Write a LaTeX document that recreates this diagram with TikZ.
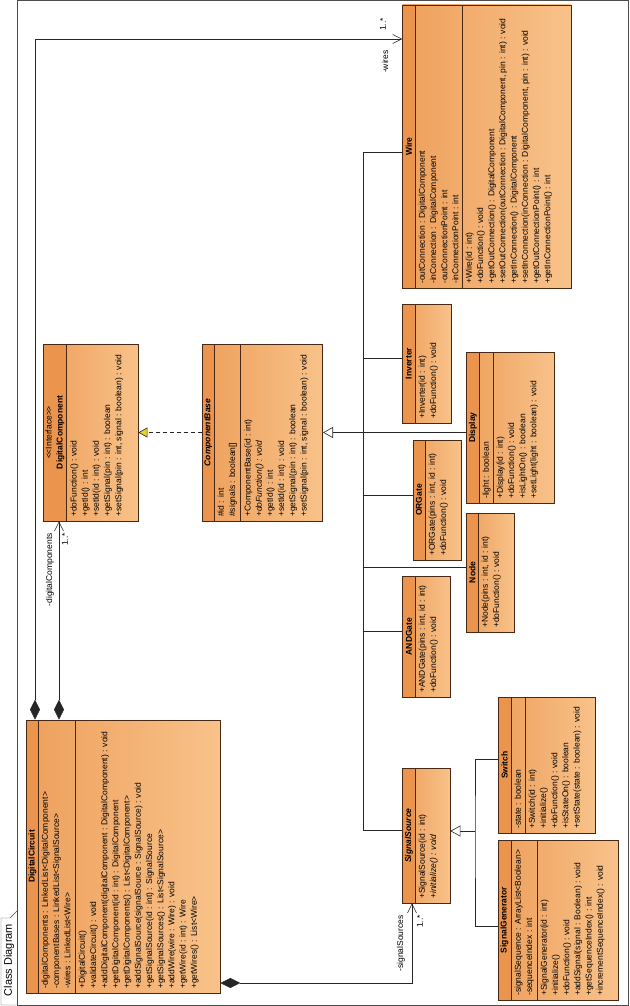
\documentclass[tikz,border=0pt]{standalone}
\usepackage{fontspec}
\setmainfont{Liberation Sans}
\usetikzlibrary{arrows.meta, fit}

\definecolor{hdrfill}{RGB}{234,148,78}
\definecolor{bodyfill}{RGB}{238,160,92}
\definecolor{bodyend}{RGB}{248,194,138}
\definecolor{boxline}{RGB}{70,40,20}
\definecolor{realfill}{RGB}{240,205,40}

\begin{document}
\begin{tikzpicture}[x=1pt, y=-1pt,
  cls/.style={draw=boxline, line width=0.7pt, inner sep=0pt, left color=bodyfill, right color=bodyend},
  hdr/.style={draw=boxline, line width=0.7pt, fill=hdrfill},
  sep/.style={draw=boxline, line width=0.7pt},
  txt/.style={rotate=90, anchor=north west, align=left, inner xsep=4pt, inner ysep=3.5pt, font=\fontsize{8.5}{11.2}\selectfont},
  ttl/.style={rotate=90, align=center, inner sep=0pt, font=\fontsize{8.5}{11}\selectfont\bfseries},
  lbl/.style={rotate=90, inner sep=0pt, font=\fontsize{8.5}{10}\selectfont},
  conn/.style={line width=0.6pt, draw=black!85},
  comp/.style={conn, {Diamond[length=20pt,width=10pt]}-{Straight Barb[length=9pt,width=9pt]}},
  gen/.style={conn, -{Triangle[length=10pt,width=11pt,fill=white]}},
  real/.style={conn, dash pattern=on 4pt off 3pt, -{Triangle[length=9pt,width=10pt,fill=realfill]}}]

  \useasboundingbox (0,0) rectangle (629,1006);

  % frame
  \draw[black!70] (17,0.5) rectangle (628.5,1005);
  \draw[black!70] (17,1005) -- (1,1005) -- (1,918) -- (10,918) -- (17,911);
  \node[lbl, font=\fontsize{11}{13}\selectfont] (frame-t) at (9,960) {Class Diagram};

  % DigitalCircuit
  \node[cls, fit={(26.7,720) (220,993)}] (dcircuit) {};
  \filldraw[hdr] (26.7,720) rectangle (38,993);
  \draw[sep] (75,720) -- (75,993);
  \node[ttl] (dcircuit-t) at (32.35,856.5) {DigitalCircuit};
  \node[txt] (dcircuit-a) at (38,993) {-digitalComponents : LinkedList<DigitalComponent>\\
    -componentBases : LinkedList<SignalSource>\\
    -wires : LinkedList<Wire>};
  \node[txt] (dcircuit-m) at (75,993) {+DigitalCircuit()\\
    +validateCircuit() : void\\
    +addDigitalComponent(digitalComponent : DigitalComponent) : void\\
    +getDigitalComponent(id : int) : DigitalComponent\\
    +getDigitalComponents() : List<DigitalComponent>\\
    +addSignalSource(signalSource : SignalSource) : void\\
    +getSignalSource(id : int) : SignalSource\\
    +getSignalSources() : List<SignalSource>\\
    +addWire(wire : Wire) : void\\
    +getWire(id : int) : Wire\\
    +getWires() : List<Wire>};

  % DigitalComponent
  \node[cls, fit={(43,344) (138,521)}] (dcomp) {};
  \filldraw[hdr] (43,344) rectangle (66.7,521);
  \node[ttl, font=\fontsize{8.5}{11}\selectfont] (dcomp-t) at (54.85,432.5) {<{}<Interface>{}>\\\textbf{DigitalComponent}};
  \node[txt] (dcomp-m) at (66.7,521) {+doFunction() : void\\
    +getId() : int\\
    +setId(id : int) : void\\
    +getSignal(pin : int) : boolean\\
    +setSignal(pin : int, signal : boolean) : void};

  % ComponentBase
  \node[cls, fit={(202.7,344) (322.7,521)}] (cbase) {};
  \filldraw[hdr] (202.7,344) rectangle (214,521);
  \draw[sep] (240.7,344) -- (240.7,521);
  \node[ttl] (cbase-t) at (208.35,432.5) {\textit{ComponentBase}};
  \node[txt] (cbase-a) at (214,521) {\#id : int\\
    \#signals : boolean[]};
  \node[txt] (cbase-m) at (240.7,521) {+ComponentBase(id : int)\\
    \textit{+doFunction() : void}\\
    +getId() : int\\
    +setId(id : int) : void\\
    +getSignal(pin : int) : boolean\\
    +setSignal(pin : int, signal : boolean) : void};

  % Wire
  \node[cls, fit={(402.7,5) (571,288)}] (wire) {};
  \filldraw[hdr] (402.7,5) rectangle (415,288);
  \draw[sep] (462,5) -- (462,288);
  \node[ttl] (wire-t) at (408.85,146.5) {Wire};
  \node[txt] (wire-a) at (415,288) {-outConnection : DigitalComponent\\
    -inConnection : DigitalComponent\\
    -outConnectionPoint : int\\
    -inConnectionPoint : int};
  \node[txt] (wire-m) at (462,288) {+Wire(id : int)\\
    +doFunction() : void\\
    +getOutConnection() : DigitalComponent\\
    +setOutConnection(outConnection : DigitalComponent, pin : int) : void\\
    +getInConnection() : DigitalComponent\\
    +setInConnection(inConnection : DigitalComponent, pin : int) : void\\
    +getOutConnectionPoint() : int\\
    +getInConnectionPoint() : int};

  % Inverter
  \node[cls, fit={(402.7,304) (451,423)}] (inverter) {};
  \filldraw[hdr] (402.7,304) rectangle (415,423);
  \node[ttl] (inverter-t) at (408.85,363.5) {Inverter};
  \node[txt] (inverter-m) at (415,423) {+Inverter(id : int)\\
    +doFunction() : void};

  % Display
  \node[cls, fit={(466.7,352) (554,503)}] (display) {};
  \filldraw[hdr] (466.7,352) rectangle (479,503);
  \draw[sep] (493,352) -- (493,503);
  \node[ttl] (display-t) at (472.85,427.5) {Display};
  \node[txt] (display-a) at (479,503) {-light : boolean};
  \node[txt] (display-m) at (493,503) {+Display(id : int)\\
    +doFunction() : void\\
    +isLightOn() : boolean\\
    +setLight(light : boolean) : void};

  % ORGate
  \node[cls, fit={(413,440) (461,560)}] (orgate) {};
  \filldraw[hdr] (413,440) rectangle (425,560);
  \node[ttl] (orgate-t) at (419,500) {ORGate};
  \node[txt] (orgate-m) at (425,560) {+ORGate(pins : int, id : int)\\
    +doFunction() : void};

  % Node
  \node[cls, fit={(466.7,513) (514,632)}] (nodebox) {};
  \filldraw[hdr] (466.7,513) rectangle (478,632);
  \node[ttl] (nodebox-t) at (472.35,572.5) {Node};
  \node[txt] (nodebox-m) at (478,632) {+Node(pins : int, id : int)\\
    +doFunction() : void};

  % ANDGate
  \node[cls, fit={(402.7,576) (450.7,697)}] (andgate) {};
  \filldraw[hdr] (402.7,576) rectangle (415,697);
  \node[ttl] (andgate-t) at (408.85,636.5) {ANDGate};
  \node[txt] (andgate-m) at (415,697) {+ANDGate(pins : int, id : int)\\
    +doFunction() : void};

  % SignalSource
  \node[cls, fit={(402.7,768) (450,903)}] (sigsrc) {};
  \filldraw[hdr] (402.7,768) rectangle (415,903);
  \node[ttl] (sigsrc-t) at (408.85,835.5) {\textit{SignalSource}};
  \node[txt] (sigsrc-m) at (415,903) {+SignalSource(id : int)\\
    \textit{+initialize() : void}};

  % Switch
  \node[cls, fit={(498,697) (595,833)}] (switch) {};
  \filldraw[hdr] (498,697) rectangle (511,833);
  \draw[sep] (525,697) -- (525,833);
  \node[ttl] (switch-t) at (504.5,765) {Switch};
  \node[txt] (switch-a) at (511,833) {-state : boolean};
  \node[txt] (switch-m) at (525,833) {+Switch(id : int)\\
    +initialize()\\
    +doFunction() : void\\
    +isStateOn() : boolean\\
    +setState(state : boolean) : void};

  % SignalGenerator
  \node[cls, fit={(498,840) (618,1000)}] (sgen) {};
  \filldraw[hdr] (498,840) rectangle (511,1000);
  \draw[sep] (537,840) -- (537,1000);
  \node[ttl] (sgen-t) at (504.5,920) {SignalGenerator};
  \node[txt] (sgen-a) at (511,1000) {-signalSequence : ArrayList<Boolean>\\
    -sequenceIndex : int};
  \node[txt] (sgen-m) at (537,1000) {+SignalGenerator(id : int)\\
    +initialize()\\
    +doFunction() : void\\
    +addSignal(signal : Boolean) : void\\
    +getSequenceIndex() : int\\
    +incrementSequenceIndex() : void};

  % realization and generalization
  \draw[real] (cbase.west) -- (dcomp.east);
  \draw[gen] (display.west |- cbase.east) -- (cbase.east);
  \coordinate (spine) at (363,0);
  \draw[conn] (wire.west |- 0,152) -| (spine |- 0,830) -- (sigsrc.west |- 0,830);
  \draw[conn] (spine |- 0,358) -- (inverter.west |- 0,358);
  \draw[conn] (spine |- 0,495) -- (orgate.west |- 0,495);
  \draw[conn] (spine |- 0,567) -- (nodebox.west |- 0,567);
  \draw[conn] (spine |- 0,631) -- (andgate.west |- 0,631);
  \coordinate (sjoin) at (475,831);
  \draw[conn] (switch.west |- 0,759) -| (sjoin) |- (sgen.west |- 0,926);
  \draw[gen] (sjoin) -- (sigsrc.east |- sjoin);

  % compositions
  \draw[comp] (dcircuit.north -| 35,0) |- (wire.west |- 0,39);
  \draw[comp] (dcircuit.north -| 59,0) -- (dcomp.south -| 59,0);
  \draw[comp] (dcircuit.east |- 0,983) -| (sigsrc.south -| 412,0);

  \node[lbl, anchor=west] (wires-m) at (383,31) {1..*};
  \node[lbl, anchor=east] (wires-l) at (385,50) {-wires};
  \node[lbl, anchor=east] (dcomps-l) at (50,533) {-digitalComponents};
  \node[lbl, anchor=east] (dcomps-m) at (65,533) {1..*};
  \node[lbl, anchor=east] (sources-l) at (401,915) {-signalSources};
  \node[lbl, anchor=east] (sources-m) at (420,915) {1..*};

\end{tikzpicture}
\end{document}
